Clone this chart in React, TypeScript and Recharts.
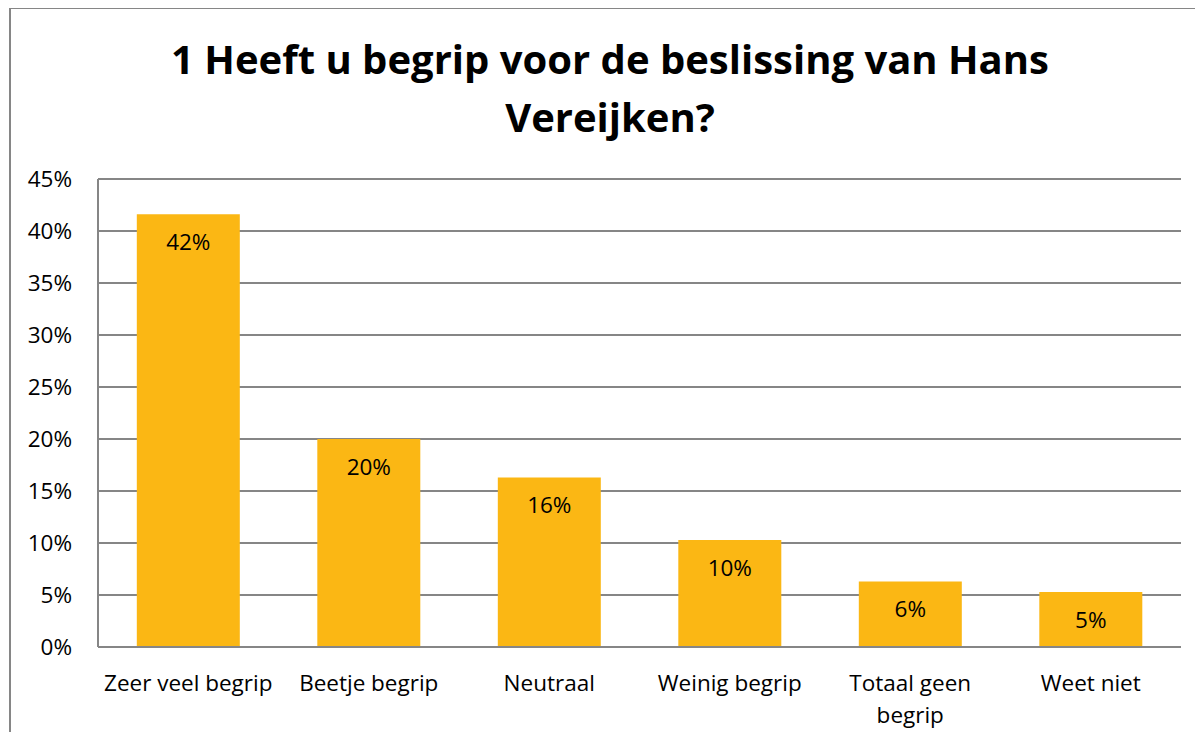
import { BarChart, Bar, XAxis, YAxis, CartesianGrid, LabelList } from 'recharts'

const categories = ['Zeer veel begrip', 'Beetje begrip', 'Neutraal', 'Weinig begrip', 'Totaal geen begrip', 'Weet niet']
// how each category label is broken over lines on the axis
const categoryLines = [['Zeer veel begrip'], ['Beetje begrip'], ['Neutraal'], ['Weinig begrip'], ['Totaal geen', 'begrip'], ['Weet niet']]
const percentages = [41.6, 20.0, 16.3, 10.3, 6.3, 5.3]
const yTicks = [0, 5, 10, 15, 20, 25, 30, 35, 40, 45]
const titleLines = ['1 Heeft u begrip voor de beslissing van Hans', 'Vereijken?']

const data = categories.map((name, i) => ({ name, value: percentages[i] }))

const font = '"Open Sans", Lato, sans-serif'
const gray = '#868686'
const labelSize = 22.5

function CategoryTick(props: any) {
  const { x, y, payload } = props
  const idx = categories.indexOf(payload.value)
  const lines = idx >= 0 ? categoryLines[idx] : [payload.value]
  return (
    <text x={x} y={y + 36} textAnchor="middle" fontSize={labelSize} fontFamily={font} fill="#000">
      {lines.map((l: string, i: number) => (
        <tspan key={i} x={x} dy={i === 0 ? 0 : 32}>{l}</tspan>
      ))}
    </text>
  )
}

export default function App() {
  return (
    <div style={{ position: 'relative', width: 1203, height: 740, margin: -8, overflow: 'hidden', background: '#fff' }}>
      <div style={{ position: 'absolute', left: 9, top: 7, width: 1400, height: 900, border: `2px solid ${gray}`, boxSizing: 'border-box' }} />
      <div style={{ position: 'absolute', left: 10, top: 30, width: 1200, textAlign: 'center', fontFamily: font, fontWeight: 700, fontSize: 40, lineHeight: '58px', color: '#000' }}>
        {titleLines.map(t => <div key={t}>{t}</div>)}
      </div>
      <div style={{ position: 'absolute', left: 0, top: 0 }}>
        <BarChart width={1203} height={740} data={data} barCategoryGap="21.5%"
          margin={{ top: 179, right: 22, bottom: 13, left: 8 }}>
          <CartesianGrid vertical={false} stroke={gray} strokeWidth={2} />
          <YAxis domain={[0, 45]} ticks={yTicks} width={90} tickLine={false}
            axisLine={{ stroke: gray, strokeWidth: 2 }} tickFormatter={(v: number) => `${v}%`}
            tick={{ fontSize: labelSize, fontFamily: font, fill: '#000' }} tickMargin={20} />
          <XAxis dataKey="name" height={80} tickLine={false} interval={0}
            axisLine={{ stroke: gray, strokeWidth: 2 }} tick={<CategoryTick />} />
          <Bar dataKey="value" fill="#FBB714" isAnimationActive={false}>
            <LabelList dataKey="value" position="insideTop" offset={20}
              formatter={(v: any) => `${Math.round(Number(v))}%`}
              style={{ fontSize: labelSize, fontFamily: font, fill: '#000' }} />
          </Bar>
        </BarChart>
      </div>
    </div>
  )
}
